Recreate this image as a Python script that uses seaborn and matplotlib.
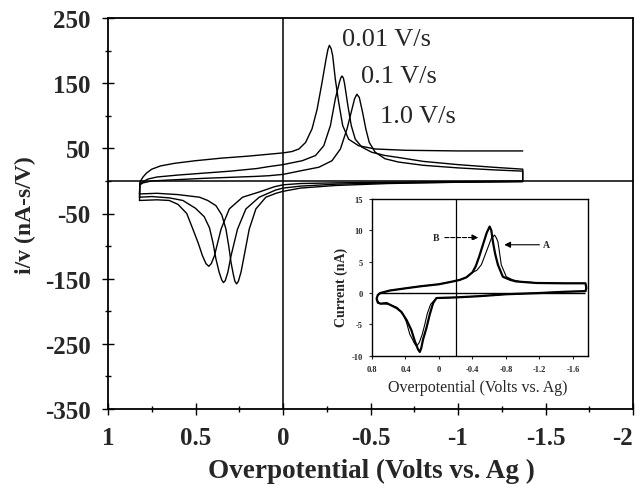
import numpy as np
import pandas as pd
import matplotlib
matplotlib.use("Agg")
import matplotlib.pyplot as plt
import seaborn as sns

sns.set_style("ticks")
plt.rcParams["font.family"] = ["Liberation Serif", "DejaVu Serif"]

# ---------------- main chart data (overpotential V, i/v nA-s/V) ----------------
# 0.01 V/s
E_up_001 = [0.82, 0.818, 0.80, 0.78, 0.75, 0.70, 0.62, 0.50, 0.35, 0.20, 0.08, 0.0, -0.05, -0.091,
            -0.129, -0.166, -0.195, -0.223, -0.246, -0.257, -0.265, -0.275, -0.284, -0.299, -0.318,
            -0.341, -0.375, -0.432, -0.527, -0.7, -1.0, -1.37]
I_up_001 = [-20, -2, 6, 12, 18, 23, 27, 31, 35, 38, 41, 43, 45, 49,
            59, 80, 110, 151, 187, 202, 208, 203, 192, 156, 121,
            85, 64, 54, 49, 47, 46, 46]
E_dn_001 = [-1.37, -1.0, -0.6, -0.3, -0.1, 0.0, 0.04, 0.098, 0.155, 0.193, 0.222, 0.24, 0.255, 0.265,
            0.275, 0.285, 0.297, 0.31, 0.326, 0.35, 0.383, 0.43, 0.477, 0.6, 0.72, 0.82]
I_dn_001 = [-1, -2, -4, -7, -11, -16, -19, -25, -43, -74, -115, -140, -154, -158,
            -154, -142, -125, -100, -74, -52, -38, -30, -25, -21, -19, -20]
# 0.1 V/s
E_up_01 = [0.82, 0.818, 0.80, 0.77, 0.72, 0.6, 0.45, 0.3, 0.15, 0.08, 0.0, -0.11, -0.186, -0.233,
           -0.271, -0.299, -0.322, -0.33, -0.337, -0.345, -0.352, -0.371, -0.39, -0.413, -0.45,
           -0.507, -0.583, -0.659, -0.8, -1.0, -1.2, -1.37]
I_up_01 = [-25, -4, -1, 3, 6, 9, 12, 15, 19, 22, 25, 31, 39, 54,
           85, 126, 151, 158, 161, 158, 149, 115, 85, 64, 52,
           44, 39, 36, 30, 25, 21, 18]
E_dn_01 = [-1.37, -1.0, -0.6, -0.3, -0.1, 0.0, 0.042, 0.136, 0.212, 0.26, 0.297, 0.315, 0.33, 0.34,
           0.35, 0.365, 0.383, 0.40, 0.42, 0.45, 0.5, 0.572, 0.65, 0.75, 0.82]
I_dn_01 = [-1, -2, -3, -5, -8, -11, -14, -25, -43, -74, -115, -140, -153, -156,
           -152, -140, -120, -95, -72, -55, -42, -30, -26, -24, -25]
# 1.0 V/s
E_up_10 = [0.82, 0.818, 0.80, 0.75, 0.6, 0.45, 0.3, 0.15, 0.08, 0.0, -0.11, -0.205, -0.28, -0.328,
           -0.366, -0.394, -0.409, -0.422, -0.436, -0.455, -0.473, -0.493, -0.527, -0.583, -0.659,
           -0.8, -1.0, -1.2, -1.37]
I_up_10 = [-30, -6, -3, 0, 2, 4, 5.5, 7, 8, 10, 16, 21, 31, 49,
           80, 110, 126, 133, 128, 105, 80, 59, 44, 34, 29,
           24, 20, 17, 15]
E_dn_10 = [-1.37, -1.0, -0.6, -0.3, -0.1, 0.0, 0.05, 0.136, 0.231, 0.307, 0.354, 0.392, 0.41, 0.424,
           0.44, 0.46, 0.485, 0.515, 0.55, 0.6, 0.65, 0.72, 0.82]
I_dn_10 = [0, -1, -2, -3, -4, -6, -9, -17, -25, -43, -74, -115, -127, -131,
           -127, -115, -95, -74, -50, -36, -30, -29, -30]

rate_labels = ["0.01 V/s", "0.1 V/s", "1.0 V/s"]
rate_label_E = [-0.335, -0.443, -0.557]
rate_label_I = [218, 161, 100]

x_major = [1, 0.5, 0, -0.5, -1, -1.5, -2]
x_major_labels = ["1", "0.5", "0", "-0.5", "-1", "-1.5", "-2"]
x_minor = [0.75, 0.25, -0.25, -0.75, -1.25, -1.75]
y_major = [250, 150, 50, -50, -150, -250, -350]
y_major_labels = ["250", "150", "50", "-50", "-150", "-250", "-350"]
y_minor = [200, 100, 0, -100, -200, -300]

# ---------------- inset data (overpotential V, current nA) ----------------
E_base = [0.73, 0.745, 0.73, 0.70, 0.586, 0.4, 0.229, 0.0, -0.168, -0.25, -0.327, -0.4]
I_base = [-1.5, -0.9, -0.3, 0.0, 0.4, 0.75, 1.06, 1.4, 1.85, 2.1, 2.5, 3.3]
E_pk_B = [-0.44, -0.48, -0.525, -0.57, -0.605, -0.625, -0.644, -0.67, -0.704, -0.763, -0.85, -0.92,
          -1.16, -1.5, -1.75, -1.76, -1.75]
I_pk_B = [4.3, 5.8, 7.7, 9.6, 10.6, 10.0, 8.2, 6.3, 4.5, 2.6, 2.1, 1.85, 1.6, 1.55, 1.55, 0.8, 0.3]
E_pk_A = [-0.45, -0.506, -0.566, -0.625, -0.664, -0.685, -0.704, -0.725, -0.744, -0.804, -0.88,
          -0.96, -1.2, -1.5, -1.75, -1.76, -1.75]
I_pk_A = [3.6, 4.5, 6.6, 8.7, 9.25, 8.8, 8.2, 6.3, 4.5, 2.6, 2.1, 1.85, 1.6, 1.55, 1.55, 0.8, 0.3]
E_ret = [-1.5, -1.2, -0.8, -0.486, -0.2, 0.03]
I_ret = [0.2, 0.0, -0.2, -0.5, -0.7, -0.8]
E_cat_A = [0.1, 0.14, 0.169, 0.2, 0.235, 0.268, 0.295, 0.32, 0.348, 0.39, 0.427, 0.5, 0.6, 0.7, 0.73]
I_cat_A = [-1.8, -3.3, -5.0, -6.6, -7.9, -8.5, -8.0, -7.3, -6.6, -4.6, -3.4, -2.3, -1.8, -1.7, -1.5]
E_cat_B = [0.07, 0.11, 0.15, 0.19, 0.212, 0.229, 0.25, 0.27, 0.288, 0.33, 0.387, 0.45, 0.506, 0.625,
           0.7, 0.73]
I_cat_B = [-1.6, -3.4, -5.6, -7.4, -8.8, -9.4, -9.0, -8.3, -7.7, -5.9, -4.3, -3.0, -2.4, -1.6,
           -1.7, -1.5]

ix_major = [0.8, 0.4, 0, -0.4, -0.8, -1.2, -1.6]
ix_labels = ["0.8", "0.4", "0", "-0.4", "-0.8", "-1.2", "-1.6"]
iy_major = [15, 10, 5, 0, -5, -10]
iy_labels = ["15", "10", "5", "0", "-5", "-10"]


def seg(E, I, uid):
    return pd.DataFrame({"E": E, "I": I, "uid": uid})


main_df = pd.concat([
    seg(E_up_001, I_up_001, "r001_up"),
    seg(E_dn_001, I_dn_001, "r001_dn"),
    seg(E_up_01 + E_dn_01, I_up_01 + I_dn_01, "r01"),
    seg(E_up_10 + E_dn_10, I_up_10 + I_dn_10, "r10"),
], ignore_index=True)

inset_B = seg(E_base + E_pk_B + E_ret + E_cat_B, I_base + I_pk_B + I_ret + I_cat_B, "B")
inset_A = seg(E_base + E_pk_A + E_ret + E_cat_A, I_base + I_pk_A + I_ret + I_cat_A, "A")

W, H = 637, 485
fig = plt.figure(figsize=(W / 100, H / 100), dpi=100)
fig.patch.set_facecolor("white")

ax = fig.add_axes([108 / W, 1 - 410 / H, 525 / W, 391 / H])
sns.lineplot(data=main_df, x="E", y="I", units="uid", estimator=None, sort=False,
             color="black", lw=1.0, ax=ax, legend=False)
ax.axhline(0, color="black", lw=1.1, zorder=1)
ax.axvline(0, color="black", lw=1.1, zorder=1)
ax.set_xlim(1, -2)
ax.set_ylim(-350, 250)
ax.set_xticks(x_major)
ax.set_xticklabels(x_major_labels, fontsize=18, fontweight="bold")
ax.get_xticklabels()[-1].set_horizontalalignment("right")
ax.set_xticks(x_minor, minor=True)
ax.set_yticks(y_major)
ax.set_yticklabels(y_major_labels, fontsize=18, fontweight="bold")
ax.set_yticks(y_minor, minor=True)
ax.tick_params(which="major", direction="inout", length=9, width=1.0, color="black")
ax.tick_params(which="minor", direction="inout", length=4, width=1.0, color="black")
ax.tick_params(axis="x", which="major", pad=8)
ax.tick_params(axis="y", which="major", pad=8)
ax.set_xlabel("")
ax.set_ylabel("")
for s in ax.spines.values():
    s.set_visible(True)
    s.set_color("black")
    s.set_linewidth(1.3)
for t, e, i in zip(rate_labels, rate_label_E, rate_label_I):
    ax.text(e, i, t, fontsize=19, ha="left", va="center")

fig.text(371 / W, 1 - 471 / H, "Overpotential (Volts vs. Ag )", ha="center", va="center",
         fontsize=19.5, fontweight="bold")
fig.text(25 / W, 1 - 215 / H, "i/v (nA-s/V)", ha="center", va="center", rotation=90,
         fontsize=17, fontweight="bold")

# ---------------- inset ----------------
axin = fig.add_axes([372 / W, 1 - 356.7 / H, 216 / W, 156.7 / H])
axin.set_facecolor("white")
sns.lineplot(data=inset_A, x="E", y="I", estimator=None, sort=False, color="black", lw=0.8,
             ax=axin, legend=False)
sns.lineplot(data=inset_B, x="E", y="I", estimator=None, sort=False, color="black", lw=1.6,
             ax=axin, legend=False)
axin.hlines(0, 0.73, -1.75, color="black", lw=1.0)
axin.axvline(-0.2, color="black", lw=0.9)
axin.set_xlim(0.8, -1.78)
axin.set_ylim(-10, 15)
axin.set_xticks(ix_major)
axin.set_xticklabels(ix_labels, fontsize=6, fontweight="bold")
axin.set_yticks(iy_major)
axin.set_yticklabels(iy_labels, fontsize=6, fontweight="bold")
axin.tick_params(direction="out", length=2.5, width=0.8, pad=4)
axin.set_xlabel("")
axin.set_ylabel("")
for s in axin.spines.values():
    s.set_visible(True)
    s.set_color("black")
    s.set_linewidth(1.0)

axin.text(0.03, 8.85, "B", fontsize=7, fontweight="bold", ha="center", va="center")
axin.annotate("", xy=(-0.47, 8.85), xytext=(-0.07, 8.85),
              arrowprops=dict(arrowstyle="-|>", linestyle="--", lw=0.8, color="black",
                              mutation_scale=9, shrinkA=0, shrinkB=0))
axin.text(-1.28, 7.7, "A", fontsize=7, fontweight="bold", ha="center", va="center")
axin.annotate("", xy=(-0.78, 7.7), xytext=(-1.2, 7.7),
              arrowprops=dict(arrowstyle="-|>", lw=0.8, color="black",
                              mutation_scale=9, shrinkA=0, shrinkB=0))

fig.text(478 / W, 1 - 388 / H, "Overpotential (Volts vs. Ag)", ha="center", va="center",
         fontsize=11.5)
fig.text(341 / W, 1 - 287 / H, "Current (nA)", ha="center", va="center", rotation=90,
         fontsize=10, fontweight="bold")

fig.savefig("out.png", dpi=100, facecolor="white")
